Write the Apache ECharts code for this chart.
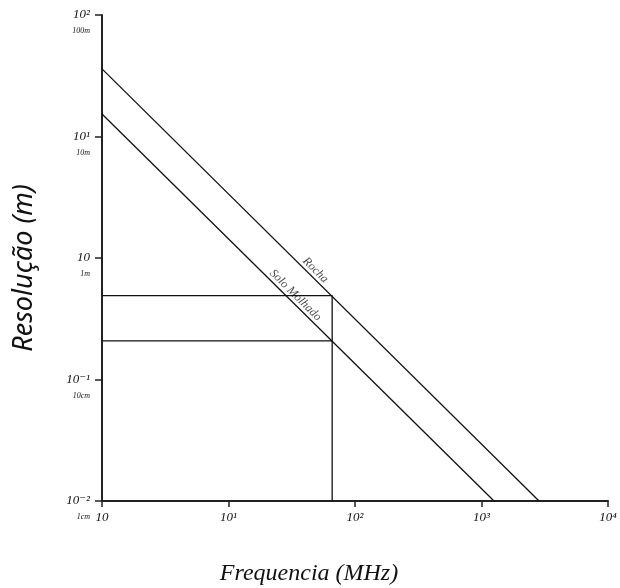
<!DOCTYPE html>
<html>
<head>
<meta charset="utf-8">
<script src="https://cdn.jsdelivr.net/npm/echarts@6/dist/echarts.min.js"></script>
<style>
  html, body { margin: 0; padding: 0; background: #fff; }
  #chart { width: 620px; height: 588px; }
</style>
</head>
<body>
<div id="chart"></div>
<script>
// frequency (MHz) vs resolution (m), both log scale
const xTickLabels = ['10', '10¹', '10²', '10³', '10⁴'];
const yTickLabels = ['10⁻²', '10⁻¹', '10', '10¹', '10²'];
const ySubLabels = ['1cm', '10cm', '1m', '10m', '100m'];

const rochaLine = [[1, 36], [2850, 0.01]];
const soloLine = [[1, 15.3], [1256, 0.01]];

// reading guides at ~66 MHz
const guideFreq = 66;
const guideRes = [0.49, 0.208];

// where the line names sit along each line (frequency)
const lineNames = ['Rocha', 'Solo Molhado'];
const nameFreq = [41.7, 29];

const FONT = '"Liberation Serif", "DejaVu Serif", serif';

function exp10(v) {
    return Math.round(Math.log10(v));
}

// point on a straight line in log-log space
function onLine(line, f) {
    const lx0 = Math.log10(line[0][0]), ly0 = Math.log10(line[0][1]);
    const lx1 = Math.log10(line[1][0]), ly1 = Math.log10(line[1][1]);
    const t = (Math.log10(f) - lx0) / (lx1 - lx0);
    return [f, Math.pow(10, ly0 + t * (ly1 - ly0))];
}

const blackLine = { color: '#111', width: 1.3 };
const lines = [rochaLine, soloLine];

const chart = echarts.init(document.getElementById('chart'));
chart.setOption({
    animation: false,
    grid: { left: 102, right: 12, top: 15, bottom: 87, outerBoundsMode: 'none' },
    xAxis: {
        type: 'log', logBase: 10, min: 1, max: 10000,
        name: 'Frequencia (MHz)', nameLocation: 'middle', nameGap: 61,
        nameTextStyle: { fontFamily: FONT, fontStyle: 'italic', fontSize: 24, color: '#111', padding: [0, 92, 0, 0] },
        axisLine: { lineStyle: { color: '#222', width: 2 } },
        axisTick: { length: 6, lineStyle: { color: '#222', width: 1.5 } },
        splitLine: { show: false },
        minorTick: { show: false },
        axisLabel: {
            margin: 10, fontFamily: FONT, fontStyle: 'italic', fontSize: 13, color: '#111',
            formatter: v => xTickLabels[exp10(v)]
        }
    },
    yAxis: {
        type: 'log', logBase: 10, min: 0.01, max: 100,
        name: 'Resolução (m)', nameLocation: 'middle', nameGap: 64,
        nameTextStyle: { fontFamily: '"Noto Sans", sans-serif', fontStyle: 'italic', fontSize: 27, color: '#111', padding: [0, 20, 0, 0] },
        axisLine: { lineStyle: { color: '#222', width: 2 } },
        axisTick: { length: 7, lineStyle: { color: '#222', width: 1.5 } },
        splitLine: { show: false },
        minorTick: { show: false },
        axisLabel: {
            margin: 12, align: 'right',
            formatter: v => {
                const i = exp10(v) + 2;
                return '{pad|}\n{m|' + yTickLabels[i] + '}\n{s|' + ySubLabels[i] + '}';
            },
            rich: {
                pad: { lineHeight: 16, fontSize: 8 },
                m: { fontFamily: FONT, fontStyle: 'italic', fontSize: 13, lineHeight: 16, color: '#111', align: 'right' },
                s: { fontFamily: FONT, fontStyle: 'italic', fontSize: 8, lineHeight: 16, color: '#111', align: 'right' }
            }
        }
    },
    series: [
        { name: 'Rocha', type: 'line', data: rochaLine, symbol: 'none', lineStyle: blackLine },
        { name: 'Solo Molhado', type: 'line', data: soloLine, symbol: 'none', lineStyle: blackLine },
        {
            type: 'line', symbol: 'none', lineStyle: blackLine,
            data: [[1, guideRes[0]], [guideFreq, guideRes[0]], [guideFreq, 0.01]]
        },
        {
            type: 'line', symbol: 'none', lineStyle: blackLine,
            data: [[1, guideRes[1]], [guideFreq, guideRes[1]]]
        },
        {
            type: 'scatter', symbolSize: 0, silent: true,
            data: lineNames.map((n, i) => ({ name: n, value: onLine(lines[i], nameFreq[i]) })),
            label: {
                show: true, position: 'inside', offset: [5, -7], rotate: -44.7,
                formatter: p => p.name,
                fontFamily: FONT, fontStyle: 'italic', fontSize: 12, color: '#111'
            }
        }
    ]
});
</script>
</body>
</html>
